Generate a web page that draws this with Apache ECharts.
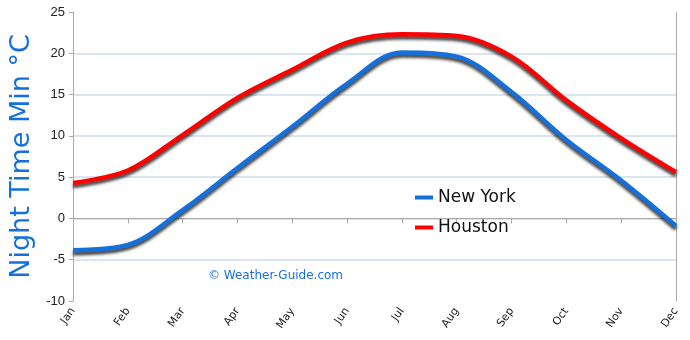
<!DOCTYPE html>
<html>
<head>
<meta charset="utf-8">
<script src="https://cdn.jsdelivr.net/npm/echarts@6/dist/echarts.min.js"></script>
<style>
  html, body { margin: 0; padding: 0; background: #fff; }
  #chart { width: 690px; height: 340px; }
</style>
</head>
<body>
<div id="chart"></div>
<script>
// Average night-time minimum temperatures (°C) by month
const months = ['Jan', 'Feb', 'Mar', 'Apr', 'May', 'Jun', 'Jul', 'Aug', 'Sep', 'Oct', 'Nov', 'Dec'];
const newYork = [-3.85, -3.2, 1.0, 6.1, 11.1, 16.3, 20.1, 19.6, 15.3, 9.5, 4.6, -0.9];
const houston = [4.3, 5.8, 10.1, 14.6, 18.0, 21.3, 22.3, 22.1, 19.6, 14.3, 9.7, 5.6];
const yTicks = { min: -10, max: 25, step: 5 };

const blue = '#1570dc';
const red = '#ff0000';
const gridColor = '#cfdcee';
const axisColor = '#aaaaaa';

const chart = echarts.init(document.getElementById('chart'));

function lineSeries(name, data, color) {
  return {
    name: name,
    type: 'line',
    data: data,
    smooth: 0.35,
    showSymbol: false,
    symbol: 'none',
    lineStyle: {
      color: color,
      width: 4.5,
      shadowColor: 'rgba(0,0,0,0.75)',
      shadowBlur: 3,
      shadowOffsetY: 3,
      shadowOffsetX: 0
    },
    itemStyle: { color: color },
    z: 3
  };
}

chart.setOption({
  animation: false,
  backgroundColor: '#ffffff',
  grid: { left: 67, right: 14, top: 12, bottom: 39, containLabel: false },
  xAxis: {
    type: 'category',
    data: months,
    boundaryGap: false,
    axisLine: { show: true, lineStyle: { color: axisColor, width: 1 } },
    axisTick: { show: true, alignWithLabel: true, length: 5, lineStyle: { color: axisColor } },
    axisLabel: {
      rotate: 55,
      interval: 0,
      fontSize: 11,
      color: '#222',
      fontFamily: 'DejaVu Sans',
      margin: 8
    },
    splitLine: { show: false }
  },
  yAxis: [
    {
      type: 'value',
      min: yTicks.min,
      max: yTicks.max,
      interval: yTicks.step,
      name: 'Night Time Min °C',
      nameLocation: 'middle',
      nameGap: 38,
      nameTextStyle: { color: blue, fontSize: 27, fontFamily: 'DejaVu Sans' },
      axisLine: { show: true, lineStyle: { color: axisColor } },
      axisTick: { show: true, length: 4, lineStyle: { color: axisColor } },
      axisLabel: { color: '#222', fontSize: 13, fontFamily: 'Liberation Sans', margin: 8 },
      splitLine: {
        show: true,
        lineStyle: {
          color: ['transparent', gridColor, gridColor, gridColor, gridColor, gridColor, gridColor, 'transparent'],
          width: 1.5
        }
      }
    },
    {
      type: 'value',
      position: 'right',
      min: yTicks.min,
      max: yTicks.max,
      interval: yTicks.step,
      axisLine: { show: true, lineStyle: { color: axisColor } },
      axisTick: { show: false },
      axisLabel: { show: false },
      splitLine: { show: false }
    }
  ],
  legend: {
    orient: 'vertical',
    left: 410,
    top: 184,
    itemGap: 13,
    itemWidth: 18,
    itemHeight: 4,
    icon: 'rect',
    textStyle: { fontSize: 17, color: '#111', fontFamily: 'DejaVu Sans' },
    data: ['New York', 'Houston']
  },
  graphic: [
    {
      type: 'text',
      left: 208,
      top: 270,
      style: {
        text: '© Weather-Guide.com',
        fill: blue,
        fontSize: 12,
        fontFamily: 'DejaVu Sans'
      }
    }
  ],
  series: [
    lineSeries('New York', newYork, blue),
    lineSeries('Houston', houston, red)
  ]
});
</script>
</body>
</html>
